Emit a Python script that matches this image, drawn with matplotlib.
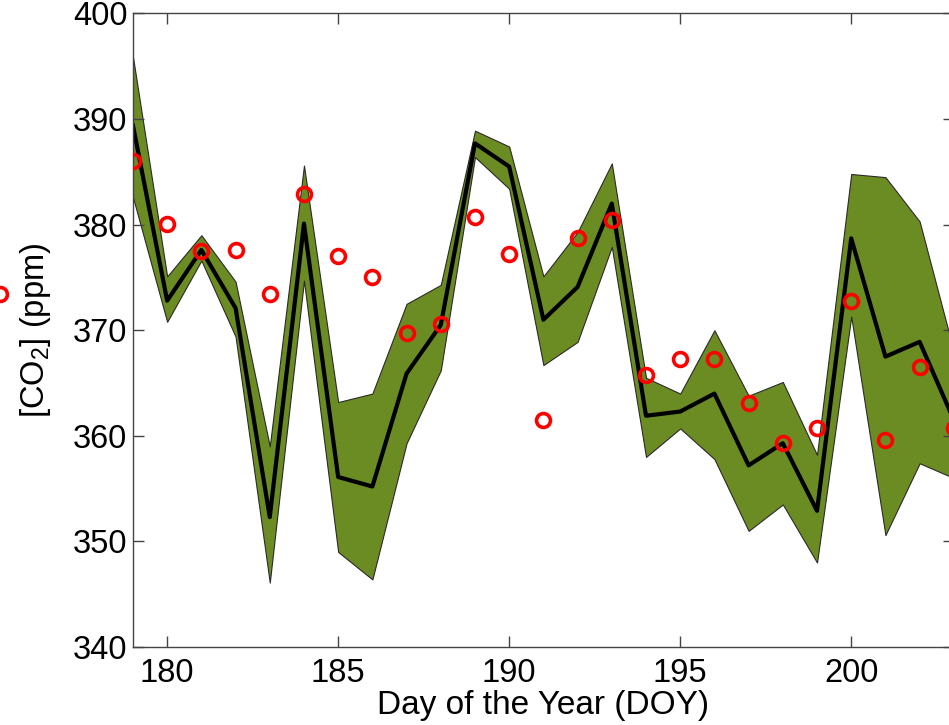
import matplotlib.pyplot as plt

plt.rcParams['font.family'] = ['Liberation Sans', 'DejaVu Sans']
plt.rcParams['mathtext.fontset'] = 'custom'
plt.rcParams['mathtext.rm'] = 'Liberation Sans'
plt.rcParams['mathtext.default'] = 'regular'

# Day of year
doy = list(range(179, 204))

# modelled mean [CO2] (ppm)
model_mean = [389.4, 372.8, 377.6, 372.1, 352.3, 380.1, 356.1, 355.2, 365.9, 370.5,
              387.7, 385.5, 371.0, 374.1, 382.0, 361.9, 362.3, 364.0, 357.2, 359.3,
              352.9, 378.7, 367.5, 368.9, 361.5]

# envelope upper / lower bounds
model_upper = [395.9, 375.1, 379.0, 374.6, 359.0, 385.6, 363.2, 364.0, 372.5, 374.3,
               388.9, 387.4, 375.1, 379.3, 385.8, 365.5, 364.0, 370.0, 363.8, 365.1,
               358.2, 384.8, 384.5, 380.3, 368.0]
model_lower = [382.6, 370.8, 376.6, 369.4, 346.1, 374.7, 349.0, 346.4, 359.3, 366.2,
               386.4, 383.4, 366.7, 368.9, 377.9, 358.0, 360.7, 357.8, 351.0, 353.5,
               348.0, 371.3, 350.6, 357.4, 356.0]

# observed [CO2] (ppm)
observed = [386.0, 380.1, 377.5, 377.6, 373.4, 382.9, 377.0, 375.0, 369.7, 370.6,
            380.7, 377.2, 361.5, 378.7, 380.4, 365.8, 367.3, 367.3, 363.1, 359.3,
            360.7, 372.8, 359.6, 366.5, 360.7]

# partial marker left of the axes
stray_x = [175.1]
stray_y = [373.4]

fig = plt.figure(figsize=(9.49, 7.25), dpi=100)
ax = fig.add_axes([0.1401, 0.1076, 0.865, 0.8738])

ax.fill_between(doy, model_lower, model_upper, facecolor='#6b8c23',
                edgecolor='#2a2a2a', linewidth=0.8, zorder=1)
ax.plot(doy, model_mean, color='black', linewidth=3, zorder=2)
ax.plot(doy, observed, 'o', markersize=10, markerfacecolor='none',
        markeredgecolor='red', markeredgewidth=2.6, zorder=3)
ax.plot(stray_x, stray_y, 'o', markersize=10, markerfacecolor='none',
        markeredgecolor='red', markeredgewidth=2.6, clip_on=False, zorder=3)

ax.set_xlim(179, 203)
ax.set_ylim(340, 400)
ax.set_xticks([180, 185, 190, 195, 200])
ax.set_yticks(range(340, 401, 10))

ax.tick_params(direction='in', length=8, width=1, color='#444444',
               top=True, right=True, labelsize=23.5, labelcolor='black')
ax.tick_params(axis='x', pad=8)
ax.tick_params(axis='y', pad=4)
for s in ax.spines.values():
    s.set_color('#444444')
    s.set_linewidth(1)

ax.set_xlabel('Day of the Year (DOY)', fontsize=24)
ax.xaxis.set_label_coords(0.5, -0.092)
ax.xaxis.label.set_va('center')
ax.set_ylabel('[CO$_2$] (ppm)', fontsize=23.5)
ax.yaxis.set_label_coords(-0.119, 0.5)
ax.yaxis.label.set_va('center')

fig.savefig('out.png', dpi=100)
